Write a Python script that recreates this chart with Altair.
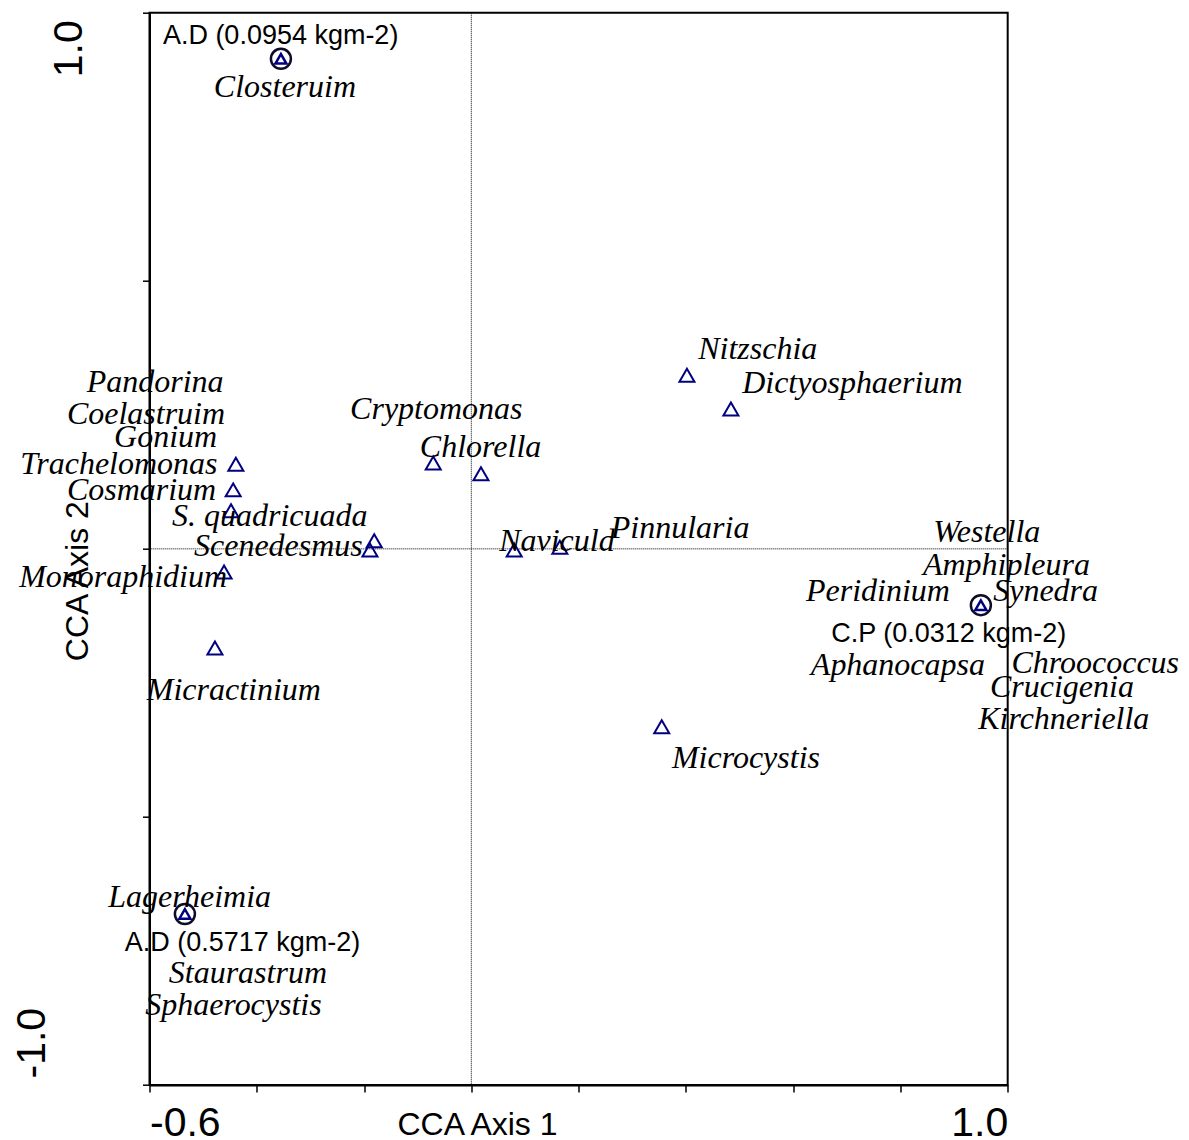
import altair as alt
import pandas as pd

# Species scores (triangles)
tri_x = [-0.439, -0.444, -0.448, -0.461, -0.478, -0.181, -0.189, -0.071, 0.018, 0.080, 0.165, 0.402, 0.484, 0.355]
tri_y = [0.158, 0.110, 0.071, -0.043, -0.185, 0.015, -0.002, 0.160, 0.140, -0.002, 0.003, 0.324, 0.261, -0.332]

# Site scores (circled points)
site_x = [-0.355, 0.950, -0.534]
site_y = [0.914, -0.105, -0.681]
site_names = ["A.D (0.0954 kgm-2)", "C.P (0.0312 kgm-2)", "A.D (0.5717 kgm-2)"]
site_label_x = [-0.575, 0.671, -0.646]
site_label_y = [0.942, -0.174, -0.750]

# Species labels and where they sit
species_names = [
    "Closteruim", "Pandorina", "Coelastruim", "Gonium", "Trachelomonas", "Cosmarium",
    "S. quadricuada", "Scenedesmus", "Monoraphidium", "Micractinium", "Cryptomonas",
    "Chlorella", "Naviculd", "Pinnularia", "Nitzschia", "Dictyosphaerium", "Westella",
    "Amphipleura", "Peridinium", "Synedra", "Aphanocapsa", "Chroococcus", "Crucigenia",
    "Kirchneriella", "Microcystis", "Lagerheimia", "Staurastrum", "Sphaerocystis",
]
species_label_x = [
    -0.480, -0.717, -0.754, -0.666, -0.841, -0.754,
    -0.558, -0.517, -0.843, -0.605, -0.226,
    -0.096, 0.052, 0.260, 0.423, 0.505, 0.861,
    0.842, 0.624, 0.973, 0.633, 1.007, 0.967,
    0.945, 0.374, -0.677, -0.564, -0.608,
]
species_label_y = [
    0.843, 0.293, 0.233, 0.190, 0.140, 0.091,
    0.043, -0.013, -0.071, -0.282, 0.242,
    0.171, -0.004, 0.020, 0.354, 0.291, 0.013,
    -0.049, -0.097, -0.097, -0.235, -0.231, -0.276,
    -0.336, -0.409, -0.668, -0.810, -0.869,
]

x_ticks = [-0.6, -0.4, -0.2, 0.0, 0.2, 0.4, 0.6, 0.8, 1.0]
y_ticks = [-1.0, -0.5, 0.0, 0.5, 1.0]

df_tri = pd.DataFrame({"x": tri_x, "y": tri_y})
df_site = pd.DataFrame({"x": site_x, "y": site_y})
df_site_lab = pd.DataFrame({"x": site_label_x, "y": site_label_y, "name": site_names})
df_lab = pd.DataFrame({"x": species_label_x, "y": species_label_y, "name": species_names})

xscale = alt.Scale(domain=[-0.6, 1.0], nice=False, zero=False)
yscale = alt.Scale(domain=[-1.0, 1.0], nice=False, zero=False)

xaxis = alt.Axis(
    values=x_ticks,
    labelExpr="datum.value < -0.5 ? '-0.6' : (datum.value > 0.9 ? '1.0' : '')",
    labelAlign={"condition": {"test": "datum.value < 0", "value": "left"}, "value": "right"},
    labelBaseline="alphabetic",
    labelPadding=44,
    title="CCA Axis 1",
    titleX=327.5,
    titleY=50,
    titleAlign="center",
    titleBaseline="alphabetic",
)
yaxis = alt.Axis(
    values=y_ticks,
    labelExpr="datum.value > 0.9 ? '1.0' : (datum.value < -0.9 ? '-1.0' : '')",
    labelAngle=270,
    labelAlign={"condition": {"test": "datum.value > 0", "value": "right"}, "value": "left"},
    labelBaseline="alphabetic",
    labelPadding={"condition": {"test": "datum.value > 0", "value": 61}, "value": 98},
    labelOffset={"condition": {"test": "datum.value > 0", "value": 7}, "value": -7},
    title="CCA Axis 2",
    titleAngle=270,
    titleX=-62,
    titleY=568,
    titleAlign="center",
    titleBaseline="alphabetic",
)

base_x = alt.X("x:Q", scale=xscale, axis=xaxis)
base_y = alt.Y("y:Q", scale=yscale, axis=yaxis)

vline = alt.Chart(pd.DataFrame({"x": [0.0]})).mark_rule(
    color="black", strokeWidth=1, strokeDash=[1, 1]
).encode(x=alt.X("x:Q", scale=xscale, axis=xaxis))
hline = alt.Chart(pd.DataFrame({"y": [0.0]})).mark_rule(
    color="black", strokeWidth=1, strokeDash=[1, 1]
).encode(y=alt.Y("y:Q", scale=yscale, axis=yaxis))

tri = alt.Chart(df_tri).mark_point(
    shape="triangle-up", size=225, filled=False, color="#000080", strokeWidth=2, opacity=1
).encode(x=base_x, y=base_y)

site_circle = alt.Chart(df_site).mark_point(
    shape="circle", size=400, filled=False, color="#0d0d2a", strokeWidth=2.5, opacity=1
).encode(x=base_x, y=base_y)
site_tri = alt.Chart(df_site).mark_point(
    shape="triangle-up", size=121, filled=False, color="#000080", strokeWidth=2.5, opacity=1
).encode(x=base_x, y=base_y)

lab = alt.Chart(df_lab).mark_text(
    font="Liberation Serif", fontStyle="italic", fontSize=32, align="left",
    baseline="alphabetic", color="black"
).encode(x=base_x, y=base_y, text="name:N")

site_lab = alt.Chart(df_site_lab).mark_text(
    font="Liberation Sans", fontSize=27, align="left", baseline="alphabetic", color="black"
).encode(x=base_x, y=base_y, text="name:N")

chart = alt.layer(vline, hline, tri, site_circle, site_tri, lab, site_lab).properties(
    width=858.2,
    height=1072.3,
    autosize=alt.AutoSizeParams(type="none"),
    padding={"left": 141.5, "top": 4.7, "right": 173, "bottom": 52},
).configure_view(
    stroke="black", strokeWidth=2
).configure_axis(
    grid=False,
    domainColor="black", domainWidth=2,
    tickColor="black", tickWidth=1.5, tickSize=7,
    labelFont="Liberation Sans", labelFontSize=41, labelColor="black",
    titleFont="Liberation Sans", titleFontSize=32, titleFontWeight="normal", titleColor="black",
)

chart.save("out.html", embed_options={"renderer": "svg", "actions": False})
